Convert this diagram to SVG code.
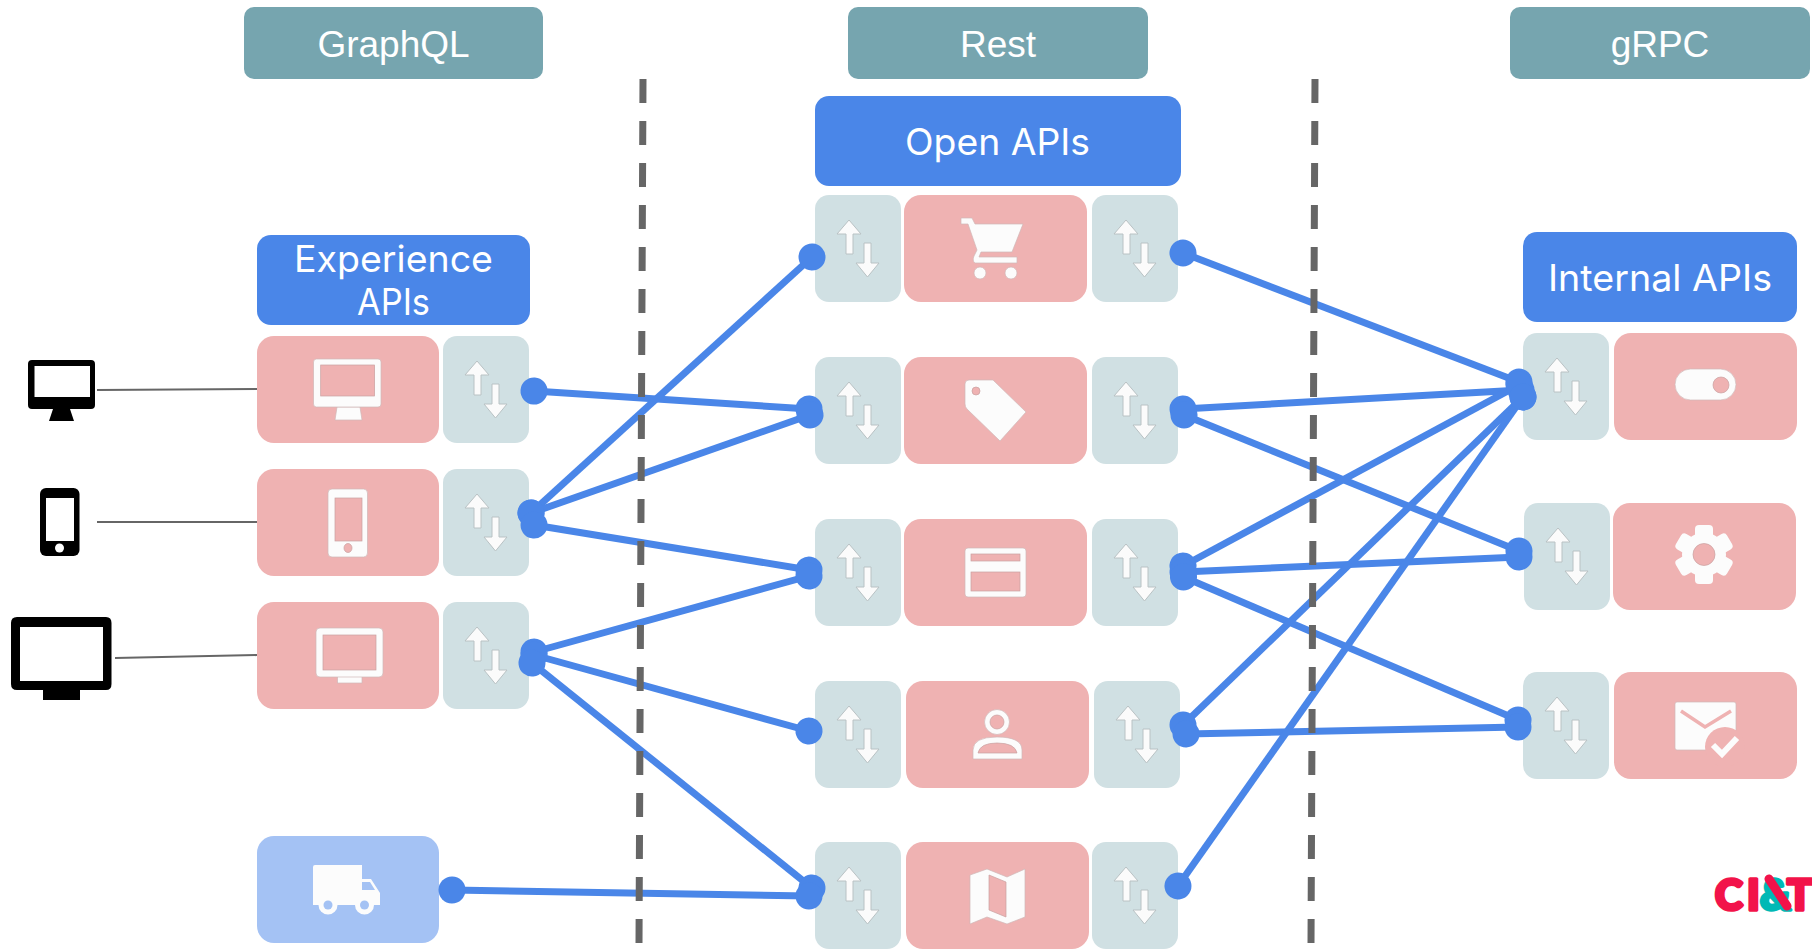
<svg xmlns="http://www.w3.org/2000/svg" width="1812" height="949" viewBox="0 0 1812 949">
<style>
.hdr{fill:#76a5af}
.api{fill:#4a86e8}
.red{fill:#efb2b2}
.tl{fill:#d0e0e3}
.trk{fill:#a4c2f4}
.w{fill:#fcfcfc;stroke:#d0b8b8;stroke-width:.7}
.a{fill:#fbfbfb;stroke:#b9c2c4;stroke-width:1}
.pk{fill:#efb2b2;stroke:#c9a0a0;stroke-width:.7}
.blk{fill:#000}
.t1{font-family:"Liberation Sans",Arial,sans-serif;font-size:37px;fill:#fff;text-anchor:middle}
.t2{font-family:Inter,"Noto Sans",sans-serif;font-size:37px;font-weight:400;fill:#fff}
.con{stroke:#4a86e8;stroke-width:7;fill:none;marker-start:url(#dot);marker-end:url(#dot)}
.thin{stroke:#666;stroke-width:2.2;fill:none}
.dash{stroke:#666;stroke-width:7;stroke-dasharray:24 18;fill:none}
</style>
<defs>
<marker id="dot" markerUnits="userSpaceOnUse" markerWidth="28" markerHeight="28" refX="14" refY="14" orient="auto"><circle cx="14" cy="14" r="13.500" fill="#4a86e8"/></marker>
<g id="ar">
<path class="a" d="M34 25L46 39H38V59H31V39H22Z"/>
<path class="a" d="M49 48H56V68H64L52.500 82L41 68H49Z"/>
</g>
<g id="tile"><rect class="tl" width="86" height="107" rx="14"/><use href="#ar"/></g>
</defs>
<rect width="1812" height="949" fill="#fff"/>

<g id="hdr-graphql"><rect class="hdr" x="244" y="7" width="299" height="72" rx="10"/><text class="t1" x="393.500" y="57">GraphQL</text></g>
<g id="hdr-rest"><rect class="hdr" x="848" y="7" width="300" height="72" rx="10"/><text class="t1" x="998" y="57">Rest</text></g>
<g id="hdr-grpc"><rect class="hdr" x="1510" y="7" width="300" height="72" rx="10"/><text class="t1" x="1660" y="57">gRPC</text></g>

<g id="experience-apis"><rect class="api" x="257" y="235" width="273" height="90" rx="14"/>
<text class="t2" x="294" y="272" textLength="199" lengthAdjust="spacingAndGlyphs">Experience</text>
<text class="t2" x="357" y="315" textLength="73" lengthAdjust="spacingAndGlyphs">APIs</text></g>
<g id="open-apis"><rect class="api" x="815" y="96" width="366" height="90" rx="14"/>
<text class="t2" x="905" y="155" textLength="185" lengthAdjust="spacingAndGlyphs">Open APIs</text></g>
<g id="internal-apis"><rect class="api" x="1523" y="232" width="274" height="90" rx="14"/>
<text class="t2" x="1548" y="291" textLength="224" lengthAdjust="spacingAndGlyphs">Internal APIs</text></g>

<g id="client-desktop">
<path class="blk" fill-rule="evenodd" d="M32 360H91Q95 360 95 364V405Q95 409 91 409H70L74 421H49L53 409H32Q28 409 28 405V364Q28 360 32 360ZM34.500 366V397H90V366Z"/>
</g>
<g id="client-phone">
<rect class="blk" x="40" y="488" width="39.500" height="68" rx="6"/><rect x="46" y="498" width="28" height="43" fill="#fff"/><circle cx="59.500" cy="548" r="4.500" fill="#fff"/>
</g>
<g id="client-tv">
<path class="blk" fill-rule="evenodd" d="M17 617H106Q111.500 617 111.500 623V684Q111.500 690 106 690H80V700H43V690H17Q11 690 11 684V623Q11 617 17 617ZM20 627V681H103V627Z"/>
</g>

<g id="exp-desktop"><rect class="red" x="257" y="336" width="182" height="107" rx="17"/>
<path class="w" d="M337 407H360L362 420H335Z"/>
<rect class="w" x="313.500" y="359" width="67.500" height="48" rx="3"/><rect class="pk" x="320.700" y="365" width="53.900" height="31"/>
<use href="#tile" x="443" y="336"/></g>
<g id="exp-phone"><rect class="red" x="257" y="469" width="182" height="107" rx="17"/>
<rect class="w" x="328" y="489" width="39.500" height="68" rx="4"/><rect class="pk" x="335" y="498" width="27" height="43"/><ellipse class="pk" cx="348" cy="548" rx="4" ry="4.500"/>
<use href="#tile" x="443" y="469"/></g>
<g id="exp-tv"><rect class="red" x="257" y="602" width="182" height="107" rx="17"/>
<rect class="w" x="337.500" y="675" width="24.500" height="8"/>
<rect class="w" x="316" y="628" width="67" height="49" rx="4"/><rect class="pk" x="323" y="635" width="53" height="35"/>
<use href="#tile" x="443" y="602"/></g>
<g id="exp-truck"><rect class="trk" x="257" y="836" width="182" height="107" rx="17"/>
<path fill="#fcfcfc" d="M315 865H362V879H371L380 893V905H371A7 7 0 0 1 357 905H335A7 7 0 0 1 321 905H313V867Q313 865 315 865Z"/>
<path class="trk" d="M362 882H370L375 890H362Z"/>
<circle fill="#fcfcfc" cx="328" cy="905" r="9.500"/><circle class="trk" cx="328" cy="905" r="4.500"/>
<circle fill="#fcfcfc" cx="364.500" cy="905" r="9.500"/><circle class="trk" cx="364.500" cy="905" r="4.500"/></g>

<g id="open-cart"><use href="#tile" x="815" y="195"/><rect class="red" x="904" y="195" width="183" height="107" rx="17"/><use href="#tile" x="1092" y="195"/>
<path class="w" d="M961 218H972L975 224H1023L1012 252H981L979 257H1017V263H975Q972 261 974 256L977 250L968 224H961Z"/>
<circle class="w" cx="980" cy="273" r="6"/><circle class="w" cx="1011" cy="273" r="6"/></g>
<g id="open-tag"><use href="#tile" x="815" y="357"/><rect class="red" x="904" y="357" width="183" height="107" rx="17"/><use href="#tile" x="1092" y="357"/>
<path class="w" d="M969 380H993L1026 412L1000 441L967 409Q965 407 965 404V384Q965 380 969 380Z"/><circle class="pk" cx="976" cy="391" r="4"/></g>
<g id="open-card"><use href="#tile" x="815" y="519"/><rect class="red" x="904" y="519" width="183" height="107" rx="17"/><use href="#tile" x="1092" y="519"/>
<rect class="w" x="965" y="548" width="61" height="49" rx="3"/><rect class="pk" x="971" y="554" width="49" height="7"/><rect class="pk" x="971" y="572" width="49" height="19"/></g>
<g id="open-user"><use href="#tile" x="815" y="681"/><rect class="red" x="906" y="681" width="183" height="107" rx="17"/><use href="#tile" x="1094" y="681"/>
<circle class="w" cx="997" cy="722" r="12.500"/><circle class="pk" cx="997" cy="722" r="7"/>
<path class="w" d="M973 759V750Q973 737 997 737Q1022 737 1022 750V759Z"/><path class="pk" d="M978 753Q980 743 997 743Q1015 743 1017 753Z"/></g>
<g id="open-map"><use href="#tile" x="815" y="842"/><rect class="red" x="906" y="842" width="183" height="107" rx="17"/><use href="#tile" x="1092" y="842"/>
<path class="w" d="M970 875L987 869L1007 877L1025 869V917L1007 924L987 917L970 924Z"/><path class="pk" d="M989 875L1006 882V917L989 910Z"/></g>

<g id="int-toggle"><use href="#tile" x="1523" y="333"/><rect class="red" x="1614" y="333" width="183" height="107" rx="17"/>
<rect class="w" x="1675" y="369" width="61" height="31" rx="15.500"/><circle class="pk" cx="1721" cy="385" r="8"/></g>
<g id="int-gear"><use href="#tile" x="1524" y="503"/><rect class="red" x="1613" y="503" width="183" height="107" rx="17"/>
<g transform="translate(1704 554.500)" fill="#fcfcfc"><rect x="-9" y="-29.500" width="18" height="59" rx="4"/><rect x="-9" y="-29.500" width="18" height="59" rx="4" transform="rotate(60)"/><rect x="-9" y="-29.500" width="18" height="59" rx="4" transform="rotate(120)"/><circle r="22"/><circle class="pk" r="11"/></g></g>
<g id="int-mail"><use href="#tile" x="1523" y="672"/><rect class="red" x="1614" y="672" width="183" height="107" rx="17"/>
<rect class="w" x="1675" y="702" width="61" height="48" rx="2"/>
<path d="M1681 711L1705 727L1731 711" fill="none" stroke="#efb2b2" stroke-width="3.500"/>
<circle cx="1725" cy="747" r="20" fill="#efb2b2"/>
<path d="M1713 745L1722 754L1737 738" fill="none" stroke="#fcfcfc" stroke-width="6"/></g>

<g id="connectors">
<line class="con" x1="534" y1="391" x2="809" y2="409"/>
<line class="con" x1="531" y1="513" x2="812" y2="257"/>
<line class="con" x1="531" y1="513" x2="810" y2="415"/>
<line class="con" x1="534" y1="525" x2="809" y2="570"/>
<line class="con" x1="534" y1="652" x2="809" y2="576"/>
<line class="con" x1="534" y1="655" x2="809" y2="731"/>
<line class="con" x1="532" y1="663" x2="812" y2="888"/>
<line class="con" x1="452" y1="890" x2="809" y2="896"/>
<line class="con" x1="1183" y1="253" x2="1519" y2="382"/>
<line class="con" x1="1183" y1="409" x2="1521" y2="390"/>
<line class="con" x1="1184" y1="415" x2="1519" y2="551"/>
<line class="con" x1="1183" y1="566" x2="1519" y2="385"/>
<line class="con" x1="1183" y1="572" x2="1519" y2="557"/>
<line class="con" x1="1183.500" y1="577" x2="1518" y2="720"/>
<line class="con" x1="1183" y1="725" x2="1523" y2="397"/>
<line class="con" x1="1186" y1="734" x2="1518" y2="727"/>
<line class="con" x1="1178" y1="886" x2="1523" y2="397"/>
<line class="thin" x1="97" y1="390" x2="257" y2="389"/>
<line class="thin" x1="97" y1="522" x2="257" y2="522"/>
<line class="thin" x1="115" y1="658" x2="257" y2="655"/>
</g>

<g id="dividers">
<line class="dash" x1="643" y1="79" x2="639" y2="943"/>
<line class="dash" x1="1315" y1="79" x2="1311" y2="943"/>
</g>

<g id="logo">
<text x="1715" y="910" font-family="Lato,'Liberation Sans',sans-serif" font-weight="900" font-size="42" fill="#f2134a" stroke="#f2134a" stroke-width="3.500" stroke-linejoin="round">C<tspan x="1747">I</tspan><tspan x="1760" fill="#00b9b5" stroke="#00b9b5">&amp;</tspan><tspan x="1787">T</tspan></text>
<line x1="1769" y1="879" x2="1787" y2="906" stroke="#f2134a" stroke-width="9" stroke-linecap="round"/>
</g>
</svg>
